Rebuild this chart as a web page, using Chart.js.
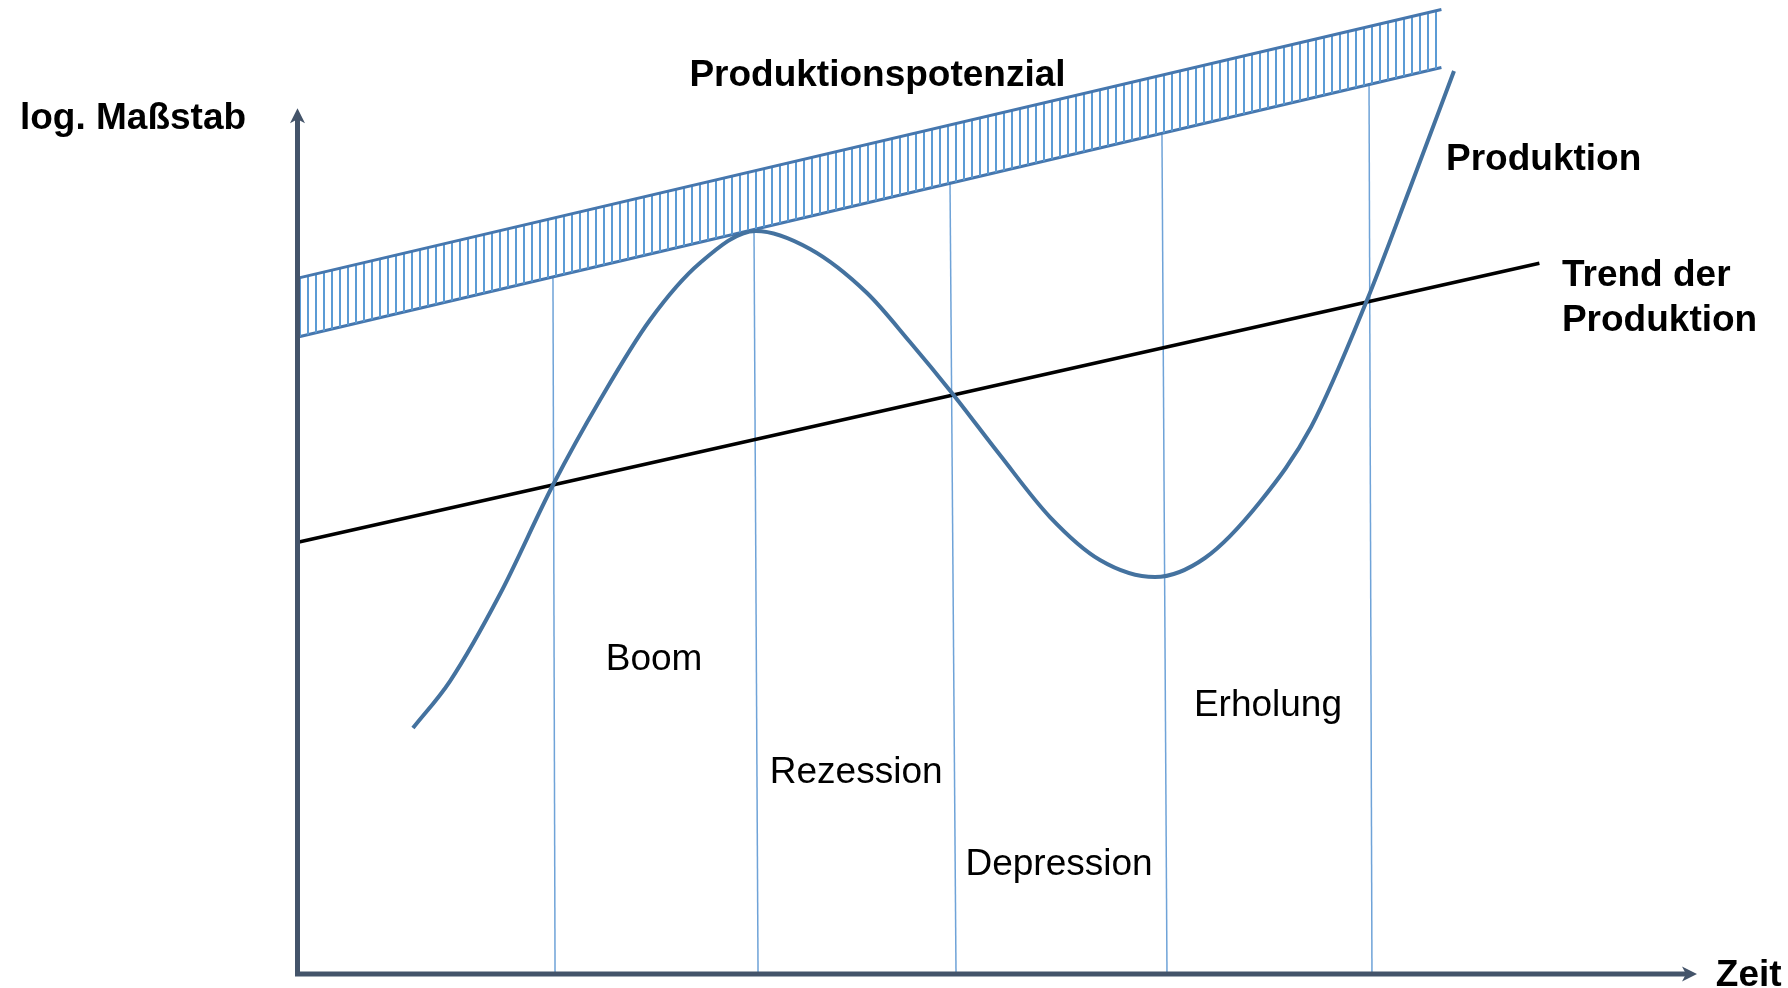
<!DOCTYPE html>
<html>
<head>
<meta charset="utf-8">
<script src="https://cdn.jsdelivr.net/npm/chart.js@4/dist/chart.umd.min.js"></script>
<style>
  html, body { margin: 0; padding: 0; background: #fff; }
</style>
</head>
<body>
<canvas id="cycle-chart" width="1788" height="988"></canvas>
<script>
// Konjunkturzyklus: Produktionspotenzial, Trend und Produktion (log. Maßstab)

// Produktionspotenzial (band between two straight lines)
const potentialX = [0, 81.6];
const potentialTop = [80.4, 111.4];
const potentialBottom = [73.6, 104.7];

// Trend der Produktion
const trendX = [0, 88.6];
const trendY = [49.9, 82.1];

// Produktion
const productionX = [8.14, 10.79, 14.36, 18.14, 21.5, 25.07, 28.64, 32.64, 36.5, 40.57,
  43.64, 46.64, 50.07, 53.64, 57.21, 61.14, 64.71, 68.64, 72.29, 76.29,
  79.36, 82.5];
const productionY = [28.41, 33.84, 43.89, 56.48, 66.3, 75.54, 82.12, 85.82, 83.74, 78.66,
  73.0, 67.11, 59.94, 52.78, 47.82, 45.85, 48.05, 54.52, 63.18, 77.85,
  90.78, 104.3];

// Phase boundaries (thin vertical lines)
const phaseTopX = [18.14, 32.5, 46.5, 61.64, 76.43];
const phaseBottomX = [18.29, 32.79, 46.93, 62.0, 76.64];
const phaseTopY = [80.5, 86.0, 91.5, 97.0, 102.9];

// Axis ends (arrow tips)
const axisEndX = 100;
const axisEndY = 100;

// Text labels
const labels = [
  { text: 'log. Maßstab', x: -19.93, y: 98.8, bold: true, align: 'left' },
  { text: 'Produktionspotenzial', x: 41.32, y: 103.7, bold: true, align: 'center' },
  { text: 'Produktion', x: 81.93, y: 94.0, bold: true, align: 'left' },
  { text: 'Trend der', x: 90.21, y: 80.7, bold: true, align: 'left' },
  { text: 'Produktion', x: 90.21, y: 75.5, bold: true, align: 'left' },
  { text: 'Zeit', x: 101.2, y: -0.21, bold: true, align: 'left' },
  { text: 'Boom', x: 25.36, y: 36.34, bold: false, align: 'center' },
  { text: 'Rezession', x: 39.8, y: 23.2, bold: false, align: 'center' },
  { text: 'Depression', x: 54.29, y: 12.67, bold: false, align: 'center' },
  { text: 'Erholung', x: 69.21, y: 31.03, bold: false, align: 'center' }
];

function toPoints(xs, ys) {
  return xs.map((x, i) => ({ x: x, y: ys[i] }));
}

function hatchPattern() {
  let c = document.createElement('canvas');
  c.width = 8;
  c.height = 8;
  let g = c.getContext('2d');
  g.fillStyle = '#5b9bd5';
  g.fillRect(3, 0, 2, 8);
  return g.createPattern(c, 'repeat');
}

let datasets = [
  {
    label: 'Potenzial oben',
    data: toPoints(potentialX, potentialTop),
    borderColor: '#4677ae',
    borderWidth: 3,
    backgroundColor: hatchPattern(),
    fill: '+1',
    order: 3
  },
  {
    label: 'Potenzial unten',
    data: toPoints(potentialX, potentialBottom),
    borderColor: '#4677ae',
    borderWidth: 3,
    fill: false,
    order: 3
  },
  {
    label: 'Trend',
    data: toPoints(trendX, trendY),
    borderColor: '#000000',
    borderWidth: 3.5,
    fill: false,
    order: 2
  },
  {
    label: 'Produktion',
    data: toPoints(productionX, productionY),
    borderColor: '#44729f',
    borderWidth: 4,
    cubicInterpolationMode: 'monotone',
    fill: false,
    order: 1
  }
];

phaseTopX.forEach((x, i) => {
  datasets.push({
    label: 'Phase ' + i,
    data: [{ x: x, y: phaseTopY[i] }, { x: phaseBottomX[i], y: 0 }],
    borderColor: '#6fa3d8',
    borderWidth: 1.5,
    fill: false,
    order: 4
  });
});

const decorations = {
  id: 'decorations',
  afterDatasetsDraw(chart) {
    const ctx = chart.ctx;
    const xs = chart.scales.x;
    const ys = chart.scales.y;
    const x0 = xs.getPixelForValue(0) - 1.5;
    const y0 = ys.getPixelForValue(0);
    const xEnd = xs.getPixelForValue(axisEndX) - 2;
    const yEnd = ys.getPixelForValue(axisEndY);

    ctx.save();
    ctx.strokeStyle = '#44546a';
    ctx.fillStyle = '#44546a';
    ctx.lineWidth = 5;
    ctx.lineJoin = 'miter';
    ctx.beginPath();
    ctx.moveTo(x0, yEnd + 10);
    ctx.lineTo(x0, y0);
    ctx.lineTo(xEnd - 10, y0);
    ctx.stroke();

    // arrow heads
    ctx.beginPath();
    ctx.moveTo(x0, yEnd);
    ctx.lineTo(x0 + 7.5, yEnd + 15);
    ctx.lineTo(x0, yEnd + 11);
    ctx.lineTo(x0 - 7.5, yEnd + 15);
    ctx.closePath();
    ctx.fill();

    ctx.beginPath();
    ctx.moveTo(xEnd, y0);
    ctx.lineTo(xEnd - 15, y0 - 7.5);
    ctx.lineTo(xEnd - 11, y0);
    ctx.lineTo(xEnd - 15, y0 + 7.5);
    ctx.closePath();
    ctx.fill();

    ctx.fillStyle = '#000000';
    ctx.textBaseline = 'middle';
    labels.forEach(l => {
      ctx.font = (l.bold ? 'bold ' : '') + '37px "Liberation Sans", Arial, sans-serif';
      ctx.textAlign = l.align;
      ctx.fillText(l.text, xs.getPixelForValue(l.x), ys.getPixelForValue(l.y));
    });
    ctx.restore();
  }
};

let cycleChart = new Chart(document.getElementById('cycle-chart').getContext('2d'), {
  type: 'line',
  data: { datasets: datasets },
  options: {
    responsive: false,
    animation: false,
    layout: { padding: { left: 299, right: 89, top: 0, bottom: 14 } },
    elements: { point: { radius: 0 }, line: { tension: 0 } },
    datasets: { line: { clip: false } },
    scales: {
      x: { type: 'linear', min: 0, max: 100, display: false },
      y: { type: 'linear', min: 0, max: 112.5, display: false }
    },
    plugins: {
      legend: { display: false },
      tooltip: { enabled: false }
    }
  },
  plugins: [decorations]
});
</script>
</body>
</html>
